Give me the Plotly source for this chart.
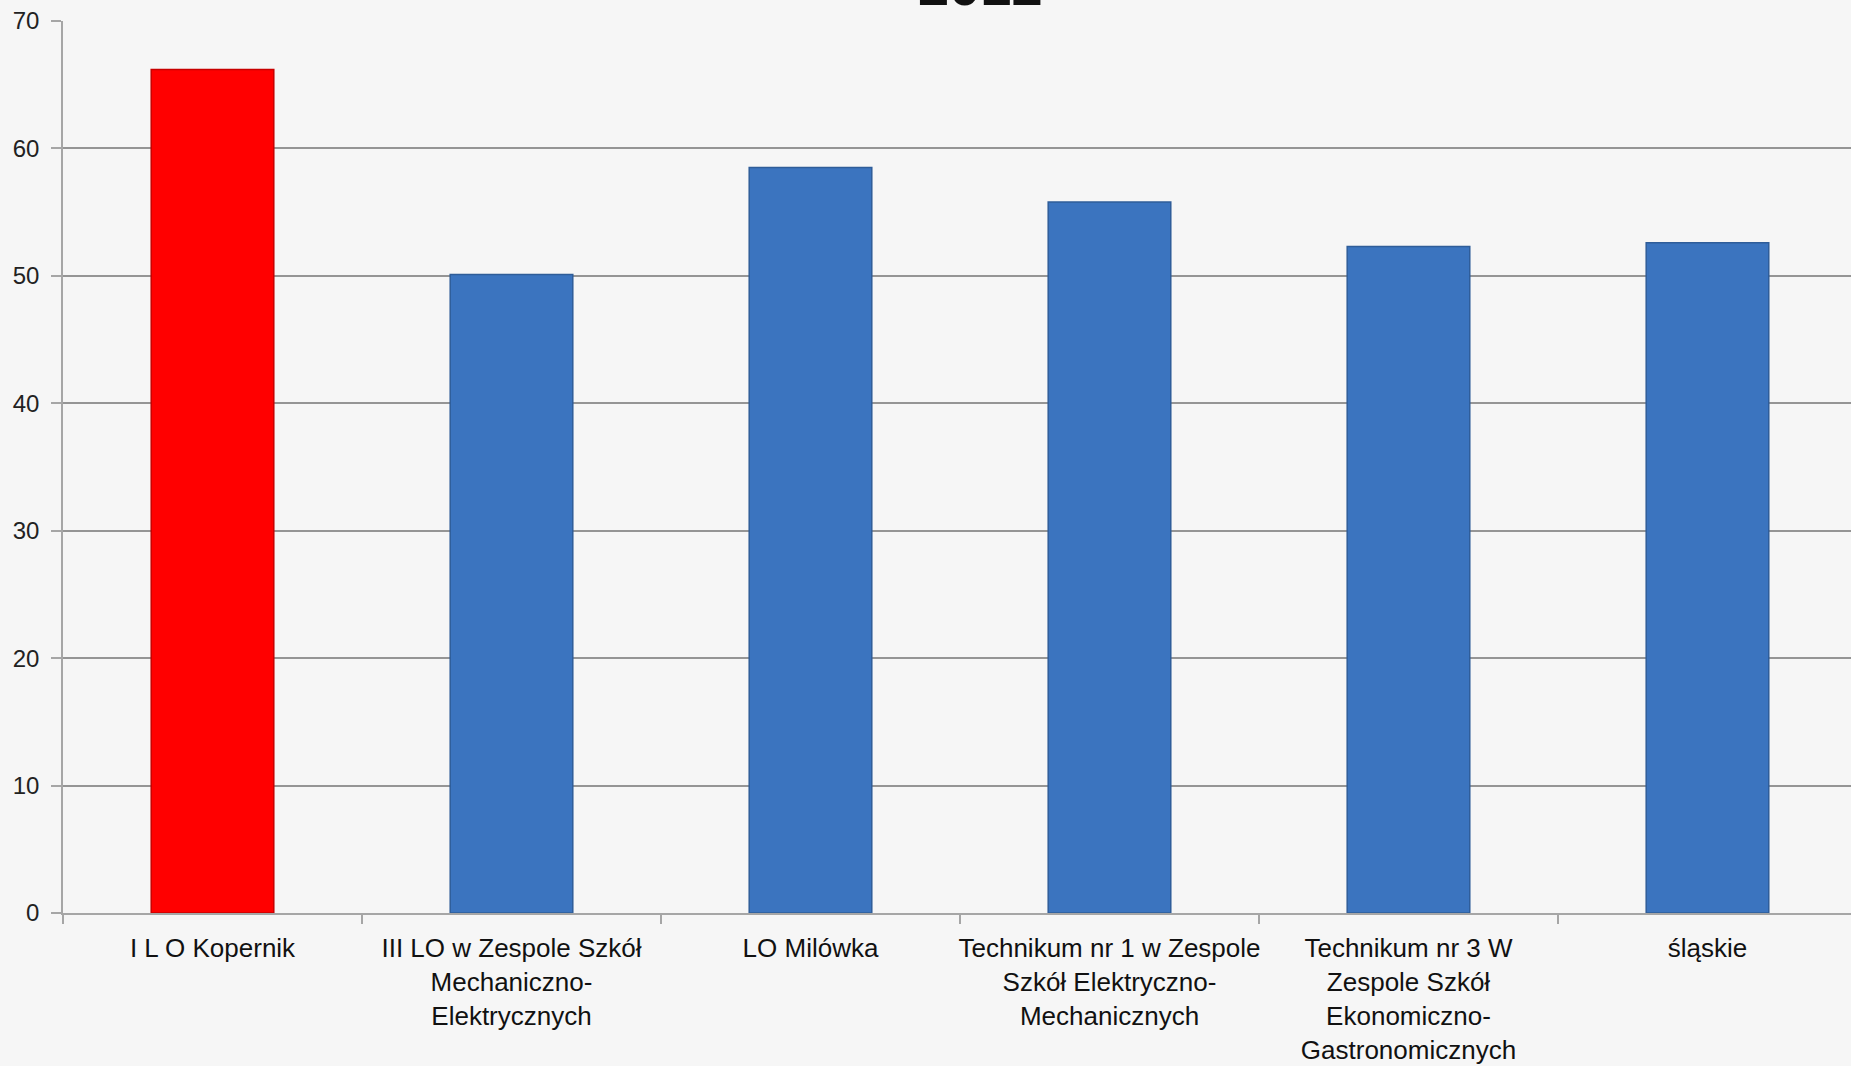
import plotly.graph_objects as go

categories = [
    "I L O Kopernik",
    "III LO w Zespole Szkół<br>Mechaniczno-<br>Elektrycznych",
    "LO Milówka",
    "Technikum nr 1 w Zespole<br>Szkół Elektryczno-<br>Mechanicznych",
    "Technikum nr 3 W<br>Zespole Szkół<br>Ekonomiczno-<br>Gastronomicznych",
    "śląskie",
]
values = [66.2, 50.1, 58.5, 55.8, 52.3, 52.6]
bar_colors = ["#ff0000", "#3b74bf", "#3b74bf", "#3b74bf", "#3b74bf", "#3b74bf"]
edge_colors = ["#c80000", "#2f5d99", "#2f5d99", "#2f5d99", "#2f5d99", "#2f5d99"]
y_ticks = [0, 10, 20, 30, 40, 50, 60, 70]
title_text = "2012"

FONT = "Liberation Sans, Arial, sans-serif"

fig = go.Figure(
    go.Bar(
        x=categories,
        y=values,
        width=0.41,
        marker=dict(color=bar_colors, line=dict(color=edge_colors, width=1.5)),
        hoverinfo="x+y",
    )
)

fig.update_layout(
    width=1851,
    height=1066,
    margin=dict(l=63, r=0, t=21, b=153),
    paper_bgcolor="#f6f6f6",
    plot_bgcolor="#f6f6f6",
    showlegend=False,
    font=dict(family=FONT, color="#111111"),
    annotations=[
        dict(
            text="<b>" + title_text + "</b>",
            xref="paper", yref="paper",
            x=(980 - 63) / 1788, y=1,
            xanchor="center", yanchor="bottom",
            yshift=2,
            showarrow=False,
            font=dict(size=56, family=FONT, color="#111111"),
        )
    ],
)

fig.update_xaxes(
    type="category",
    range=[-0.5, 5.48],
    showline=True,
    linecolor="#a6a6a6",
    linewidth=2,
    ticks="outside",
    tickson="boundaries",
    ticklen=9,
    tickcolor="#a6a6a6",
    tickwidth=1.5,
    showgrid=False,
    tickfont=dict(size=26, family=FONT, color="#111111"),
    ticklabelstandoff=11,
    tickangle=0,
)

fig.update_yaxes(
    range=[0, 70],
    tickvals=y_ticks,
    showline=True,
    linecolor="#a6a6a6",
    linewidth=1.5,
    ticks="outside",
    ticklen=10,
    tickcolor="#a6a6a6",
    tickwidth=1.5,
    showgrid=True,
    gridcolor="#959595",
    gridwidth=1.5,
    zeroline=False,
    tickfont=dict(size=24, family=FONT, color="#222222"),
    ticklabelstandoff=7,
)

fig.write_html(
    "out.html",
    config={"displayModeBar": False},
    post_script="document.body.style.margin='0';document.body.style.overflow='hidden';",
)
